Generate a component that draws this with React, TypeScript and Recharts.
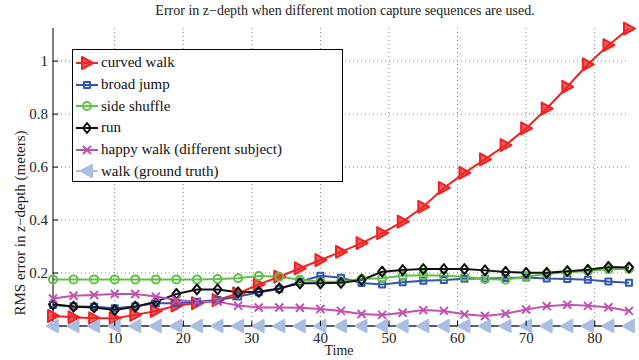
import React from "react";
import {CartesianGrid, Legend, Line, LineChart, XAxis, YAxis} from "recharts";

const FONT = "'Liberation Serif', 'Times New Roman', serif";

const TIME = [1, 4, 7, 10, 13, 16, 19, 22, 25, 28, 31, 34, 37, 40, 43, 46, 49, 52, 55, 58, 61, 64, 67, 70, 73, 76, 79, 82, 85];
const CURVED_WALK = [0.038, 0.033, 0.029, 0.029, 0.042, 0.057, 0.077, 0.086, 0.098, 0.123, 0.157, 0.186, 0.218, 0.249, 0.28, 0.313, 0.351, 0.394, 0.45, 0.521, 0.578, 0.629, 0.683, 0.746, 0.821, 0.903, 0.988, 1.06, 1.123];
const BROAD_JUMP = [0.079, 0.075, 0.073, 0.067, 0.075, 0.086, 0.086, 0.092, 0.098, 0.111, 0.127, 0.14, 0.167, 0.19, 0.182, 0.162, 0.157, 0.165, 0.171, 0.174, 0.178, 0.179, 0.181, 0.183, 0.179, 0.177, 0.175, 0.168, 0.163];
const SIDE_SHUFFLE = [0.176, 0.176, 0.176, 0.176, 0.176, 0.176, 0.176, 0.176, 0.177, 0.18, 0.189, 0.186, 0.175, 0.167, 0.167, 0.177, 0.18, 0.19, 0.192, 0.19, 0.186, 0.177, 0.175, 0.186, 0.197, 0.203, 0.208, 0.214, 0.216];
const RUN = [0.082, 0.073, 0.07, 0.06, 0.073, 0.092, 0.121, 0.138, 0.138, 0.127, 0.129, 0.142, 0.161, 0.161, 0.163, 0.174, 0.205, 0.211, 0.215, 0.215, 0.215, 0.21, 0.204, 0.201, 0.201, 0.207, 0.212, 0.223, 0.221];
const HAPPY_WALK = [0.104, 0.114, 0.117, 0.121, 0.121, 0.111, 0.098, 0.092, 0.092, 0.077, 0.07, 0.07, 0.069, 0.064, 0.057, 0.045, 0.042, 0.05, 0.06, 0.057, 0.044, 0.038, 0.046, 0.062, 0.075, 0.08, 0.076, 0.071, 0.057];
const WALK = [0, 0, 0, 0, 0, 0, 0, 0, 0, 0, 0, 0, 0, 0, 0, 0, 0, 0, 0, 0, 0, 0, 0, 0, 0, 0, 0, 0, 0];

const X_TICKS = [10, 20, 30, 40, 50, 60, 70, 80];
const Y_TICKS = [0.2, 0.4, 0.6, 0.8, 1];

const data = TIME.map((t, i) => ({
    time: t,
    curved: CURVED_WALK[i],
    broad: BROAD_JUMP[i],
    side: SIDE_SHUFFLE[i],
    run: RUN[i],
    happy: HAPPY_WALK[i],
    walk: WALK[i],
}));

const SERIES = [
    {key: "curved", name: "curved walk", color: "#ee2424", shape: "right"},
    {key: "broad", name: "broad jump", color: "#3356b0", shape: "square"},
    {key: "side", name: "side shuffle", color: "#62c046", shape: "circle"},
    {key: "run", name: "run", color: "#111111", shape: "diamond"},
    {key: "happy", name: "happy walk (different subject)", color: "#c052b0", shape: "cross"},
    {key: "walk", name: "walk (ground truth)", color: "#aabde2", shape: "left"},
];

function marker(shape: string, color: string, cx: number, cy: number, key?: string) {
    const common = {key, stroke: color, strokeWidth: 2, fill: "none", strokeLinejoin: "round" as const};
    switch (shape) {
        case "right":
            return <polygon {...common} fill={color} fillOpacity={0.75} points={`${cx + 6},${cy} ${cx - 5},${cy - 6} ${cx - 5},${cy + 6}`}/>;
        case "left":
            return <polygon {...common} fill={color} points={`${cx - 6},${cy} ${cx + 5},${cy - 6} ${cx + 5},${cy + 6}`}/>;
        case "square":
            return <rect {...common} x={cx - 3} y={cy - 3} width={6} height={6}/>;
        case "circle":
            return <circle {...common} cx={cx} cy={cy} r={4}/>;
        case "diamond":
            return <polygon {...common} points={`${cx},${cy - 5} ${cx + 4},${cy} ${cx},${cy + 5} ${cx - 4},${cy}`}/>;
        default:
            return <path {...common} d={`M${cx - 4},${cy - 4}L${cx + 4},${cy + 4}M${cx - 4},${cy + 4}L${cx + 4},${cy - 4}`}/>;
    }
}

const BottomTick = (p: any) => (
    <g>
        <line x1={p.x} x2={p.x} y1={p.y} y2={p.y - 5} stroke="#000"/>
        <text x={p.x} y={p.y + 17} textAnchor="middle" fontSize={15} fontFamily={FONT} fill="#222">{p.payload.value}</text>
    </g>
);
const LeftTick = (p: any) => (
    <g>
        <line x1={p.x} x2={p.x + 5} y1={p.y} y2={p.y} stroke="#000"/>
        <text x={p.x - 5} y={p.y + 5} textAnchor="end" fontSize={15} fontFamily={FONT} fill="#222">{String(p.payload.value)}</text>
    </g>
);
const TopTick = (p: any) => <line x1={p.x} x2={p.x} y1={p.y} y2={p.y + 5} stroke="#000"/>;
const RightTick = (p: any) => <line x1={p.x} x2={p.x - 5} y1={p.y} y2={p.y} stroke="#000"/>;

const LegendBox = () => (
    <div style={{border: "1.5px solid #000", background: "#fff", boxSizing: "border-box", width: 271, height: 133, paddingTop: 2, fontFamily: FONT}}>
        {SERIES.map(s => (
            <div key={s.key} style={{display: "flex", alignItems: "center", height: 21.7}}>
                <svg width={28} height={16} style={{flex: "none"}}>
                    <line x1={3} x2={25} y1={8} y2={8} stroke={s.color} strokeWidth={2}/>
                    {marker(s.shape, s.color, 14, 8)}
                </svg>
                <span style={{fontSize: 15, color: "#111", whiteSpace: "nowrap"}}>{s.name}</span>
            </div>
        ))}
    </div>
);

export default function App() {
    return (
        <div style={{position: "absolute", left: 0, top: 0, width: 639, height: 360}}>
            <div style={{position: "absolute", left: 0, top: 3, width: 690, textAlign: "center", fontFamily: FONT, fontSize: 14, color: "#222"}}>
                Error in z−depth when different motion capture sequences are used.
            </div>
            <LineChart width={639} height={360} data={data} margin={{top: 28, right: 10, bottom: 4, left: 8}}>
                <CartesianGrid stroke="#888" strokeDasharray="1 3" horizontalValues={Y_TICKS} verticalValues={X_TICKS}/>
                <XAxis dataKey="time" type="number" domain={[1, 85]} ticks={X_TICKS} interval={0} height={30}
                       tickSize={0} tickMargin={0} tick={<BottomTick/>} axisLine={{stroke: "#000"}}
                       label={{content: () => <text x={339} y={355} textAnchor="middle" fontSize={14} fontFamily={FONT} fill="#222">Time</text>}}/>
                <XAxis xAxisId="top" orientation="top" dataKey="time" type="number" domain={[1, 85]} ticks={X_TICKS} interval={0}
                       height={0} tickSize={0} tickMargin={0} tick={<TopTick/>} axisLine={{stroke: "#000"}}/>
                <YAxis type="number" domain={[0, 1.125]} ticks={Y_TICKS} interval={0} width={45}
                       tickSize={0} tickMargin={0} tick={<LeftTick/>} axisLine={{stroke: "#000"}}
                       label={{content: () => <text x={25} y={223} transform="rotate(-90 25 223)" textAnchor="middle" fontSize={15} fontFamily={FONT} fill="#222">RMS error in <tspan fontStyle="italic">z</tspan>−depth (meters)</text>}}/>
                <YAxis yAxisId="right" orientation="right" type="number" domain={[0, 1.125]} ticks={Y_TICKS} interval={0} width={0}
                       tickSize={0} tickMargin={0} tick={<RightTick/>} axisLine={{stroke: "#000"}}/>
                {SERIES.map(s => (
                    <Line key={s.key} dataKey={s.key} name={s.name} stroke={s.color} strokeWidth={2} isAnimationActive={false}
                          dot={(p: any) => marker(s.shape, s.color, p.cx, p.cy, `${s.key}-${p.index}`)}
                          activeDot={false}/>
                ))}
                <Legend layout="vertical" align="center" verticalAlign="middle" content={<LegendBox/>}
                        wrapperStyle={{left: 72, top: 49, width: 271, height: 133}}/>
            </LineChart>
        </div>
    );
}
